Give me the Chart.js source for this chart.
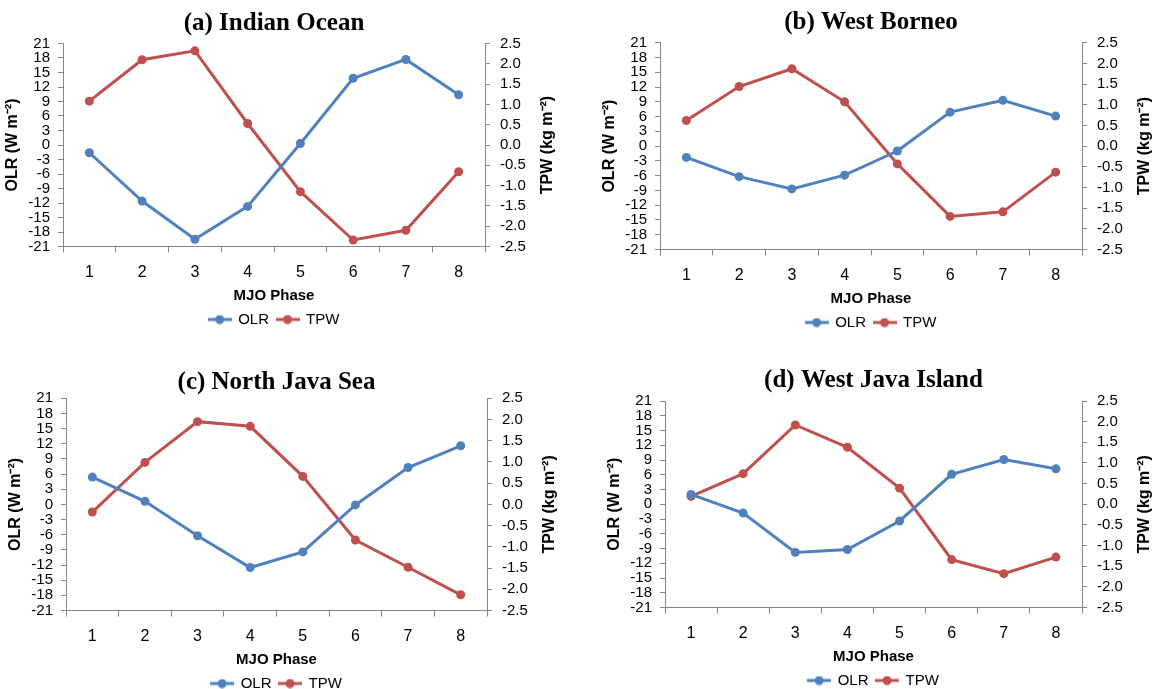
<!DOCTYPE html>
<html>
<head>
    <title>OLR and TPW by MJO Phase</title>
    <script src="https://cdn.jsdelivr.net/npm/chart.js"></script>
    <style>
        html, body {
            margin: 0;
            padding: 0;
            background: #fff;
            overflow: hidden;
        }
        .panel {
            position: absolute;
            width: 578px;
        }
    </style>
</head>
<body>
    <div class="panel" id="boxA" style="left:0px; top:0px; height:337px;"><canvas id="chartA"></canvas></div>
    <div class="panel" id="boxB" style="left:578px; top:0px; height:340px;"><canvas id="chartB"></canvas></div>
    <div class="panel" id="boxC" style="left:0px; top:340px; height:361px;"><canvas id="chartC"></canvas></div>
    <div class="panel" id="boxD" style="left:578px; top:340px; height:358px;"><canvas id="chartD"></canvas></div>

    <script>
        // MJO phases on the x axis
        const phases = ["1", "2", "3", "4", "5", "6", "7", "8"];

        // OLR anomaly (W m-2), left axis
        const olrIndianOcean = [-1.6, -11.6, -19.5, -12.7, 0.3, 13.8, 17.7, 10.4];
        const olrWestBorneo = [-2.3, -6.2, -8.7, -5.9, -1.0, 6.9, 9.3, 6.1];
        const olrNorthJavaSea = [5.4, 0.6, -6.2, -12.5, -9.4, -0.1, 7.3, 11.6];
        const olrWestJavaIsland = [2.0, -1.8, -9.8, -9.2, -3.4, 6.1, 9.1, 7.2];

        // TPW anomaly (kg m-2), right axis
        const tpwIndianOcean = [1.08, 2.10, 2.32, 0.53, -1.15, -2.34, -2.10, -0.66];
        const tpwWestBorneo = [0.62, 1.44, 1.87, 1.07, -0.43, -1.70, -1.59, -0.63];
        const tpwNorthJavaSea = [-0.18, 0.99, 1.95, 1.84, 0.66, -0.84, -1.48, -2.13];
        const tpwWestJavaIsland = [0.19, 0.74, 1.92, 1.38, 0.39, -1.34, -1.68, -1.28];

        // axis ranges: min, max, step
        const olrRange = [-21, 21, 3];
        const tpwRange = [-2.5, 2.5, 0.5];

        const blue = "#4F81BD";
        const red = "#C0504D";
        const axisGray = "#868686";
        const sans = "'Liberation Sans', Arial, sans-serif";

        // little line-with-dot marks for the legend
        function legendMark(color) {
            const c = document.createElement("canvas");
            c.width = 24;
            c.height = 10;
            const g = c.getContext("2d");
            g.strokeStyle = color;
            g.lineWidth = 3;
            g.beginPath();
            g.moveTo(0, 5);
            g.lineTo(24, 5);
            g.stroke();
            g.fillStyle = color;
            g.beginPath();
            g.arc(12, 5, 4.5, 0, Math.PI * 2);
            g.fill();
            return c;
        }
        const marks = [legendMark(blue), legendMark(red)];

        // both y titles read bottom to top, so draw them ourselves
        const sideTitles = {
            id: "sideTitles",
            afterDraw(chart, args, opts) {
                const ctx = chart.ctx;
                const area = chart.chartArea;
                const midY = (area.top + area.bottom) / 2;
                ctx.save();
                ctx.font = "bold 16px " + sans;
                ctx.fillStyle = "#000";
                ctx.textAlign = "center";
                ctx.textBaseline = "middle";
                [[opts.left, area.left - opts.leftGap], [opts.right, area.right + opts.rightGap]].forEach(([text, x]) => {
                    ctx.save();
                    ctx.translate(x, midY);
                    ctx.rotate(-Math.PI / 2);
                    ctx.fillText(text, 0, 0);
                    ctx.restore();
                });
                ctx.restore();
            }
        };

        function makeChart(canvasId, title, olr, tpw, pad) {
            return new Chart(document.getElementById(canvasId), {
                type: "line",
                data: {
                    labels: phases,
                    datasets: [
                        {
                            label: "OLR",
                            data: olr,
                            yAxisID: "y",
                            borderColor: blue,
                            backgroundColor: blue,
                            borderWidth: 3,
                            pointRadius: 4.5,
                            pointBorderWidth: 0,
                            fill: false,
                            tension: 0
                        },
                        {
                            label: "TPW",
                            data: tpw,
                            yAxisID: "y2",
                            borderColor: red,
                            backgroundColor: red,
                            borderWidth: 3,
                            pointRadius: 4.5,
                            pointBorderWidth: 0,
                            fill: false,
                            tension: 0
                        }
                    ]
                },
                options: {
                    responsive: true,
                    maintainAspectRatio: false,
                    animation: false,
                    layout: {
                        padding: { left: pad.left, right: pad.right, top: 0, bottom: 0 }
                    },
                    plugins: {
                        title: {
                            display: true,
                            text: title,
                            fullSize: false,
                            color: "#000",
                            font: { family: "'Liberation Serif', 'Times New Roman', serif", size: 25, weight: "bold" },
                            padding: { top: pad.titleTop, bottom: pad.titleBottom }
                        },
                        legend: {
                            position: "bottom",
                            fullSize: false,
                            labels: {
                                usePointStyle: true,
                                pointStyleWidth: 22,
                                padding: 7.5,
                                color: "#000",
                                font: { family: sans, size: 15 },
                                generateLabels(chart) {
                                    const items = Chart.defaults.plugins.legend.labels.generateLabels(chart);
                                    items.forEach((it, i) => { it.pointStyle = marks[i]; });
                                    return items;
                                }
                            }
                        },
                        tooltip: { enabled: false },
                        sideTitles: {
                            left: "OLR (W m⁻²)",
                            right: "TPW (kg m⁻²)",
                            leftGap: 50,
                            rightGap: 63
                        }
                    },
                    scales: {
                        x: {
                            offset: true,
                            afterFit(scale) { scale.height = 58; },
                            border: { color: axisGray, width: 1 },
                            grid: {
                                offset: true,
                                drawOnChartArea: false,
                                tickLength: 6,
                                color: axisGray
                            },
                            ticks: {
                                color: "#000",
                                padding: 10,
                                font: { family: sans, size: 16 }
                            },
                            title: {
                                display: true,
                                text: "MJO Phase",
                                color: "#000",
                                font: { family: sans, size: 15, weight: "bold" },
                                padding: { top: 0, bottom: 0 }
                            }
                        },
                        y: {
                            position: "left",
                            min: olrRange[0],
                            max: olrRange[1],
                            afterFit(scale) { scale.width = 45; },
                            border: { color: axisGray, width: 1 },
                            grid: {
                                drawOnChartArea: false,
                                tickLength: 5,
                                color: axisGray
                            },
                            ticks: {
                                stepSize: olrRange[2],
                                autoSkip: false,
                                color: "#000",
                                padding: 8,
                                font: { family: sans, size: 15 }
                            }
                        },
                        y2: {
                            position: "right",
                            min: tpwRange[0],
                            max: tpwRange[1],
                            afterFit(scale) { scale.width = 45; },
                            border: { color: axisGray, width: 1 },
                            grid: {
                                drawOnChartArea: false,
                                tickLength: 5,
                                color: axisGray
                            },
                            ticks: {
                                stepSize: tpwRange[2],
                                autoSkip: false,
                                color: "#000",
                                padding: 10,
                                font: { family: sans, size: 15 },
                                callback: (v) => Number(v).toFixed(1)
                            }
                        }
                    }
                },
                plugins: [sideTitles]
            });
        }

        makeChart("chartA", "(a) Indian Ocean", olrIndianOcean, tpwIndianOcean,
            { left: 18, right: 48, titleTop: 9, titleBottom: 4.5 });
        makeChart("chartB", "(b) West Borneo", olrWestBorneo, tpwWestBorneo,
            { left: 37, right: 29, titleTop: 8, titleBottom: 4.7 });
        makeChart("chartC", "(c) North Java Sea", olrNorthJavaSea, tpwNorthJavaSea,
            { left: 21, right: 46, titleTop: 28, titleBottom: 0.3 });
        makeChart("chartD", "(d) West Java Island", olrWestJavaIsland, tpwWestJavaIsland,
            { left: 42, right: 29, titleTop: 26, titleBottom: 5 });
    </script>
</body>
</html>
